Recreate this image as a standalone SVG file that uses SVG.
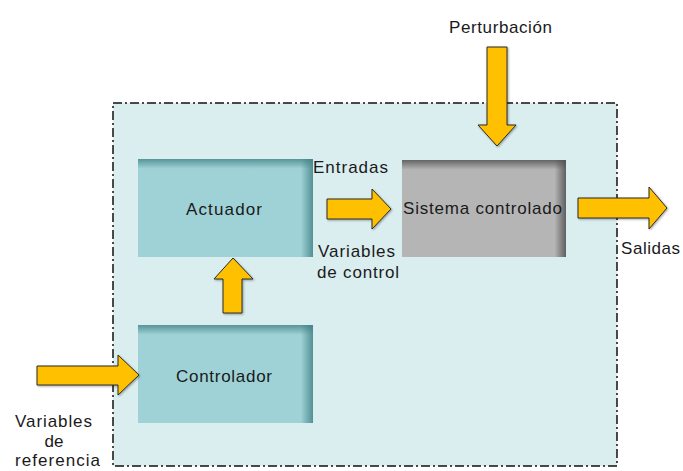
<svg xmlns="http://www.w3.org/2000/svg" width="683" height="471" viewBox="0 0 683 471">
  <defs>
    <style>
      text { font-family: "Liberation Sans", Arial, sans-serif; font-size: 17px; fill: #1a1a1a; }
      .arrow { fill: #FFC000; stroke: #2b2b2b; stroke-width: 1; stroke-linejoin: miter; filter: url(#sh); }
      .frame { fill: #DAEDEF; stroke: #111; stroke-width: 1.5; stroke-dasharray: 9 3 2 3; }
    </style>
    <filter id="sh" x="-20%" y="-20%" width="140%" height="140%">
      <feDropShadow dx="1" dy="1" stdDeviation="0.8" flood-color="#000" flood-opacity="0.35"/>
    </filter>
    <linearGradient id="topT" x1="0" y1="0" x2="0" y2="1">
      <stop offset="0" stop-color="#3f7f84" stop-opacity="0.75"/>
      <stop offset="0.1" stop-color="#3f7f84" stop-opacity="0"/>
    </linearGradient>
    <linearGradient id="rightT" x1="0" y1="0" x2="1" y2="0">
      <stop offset="0.93" stop-color="#3f7f84" stop-opacity="0"/>
      <stop offset="1" stop-color="#3f7f84" stop-opacity="0.8"/>
    </linearGradient>
    <linearGradient id="topG" x1="0" y1="0" x2="0" y2="1">
      <stop offset="0" stop-color="#505050" stop-opacity="0.8"/>
      <stop offset="0.1" stop-color="#505050" stop-opacity="0"/>
    </linearGradient>
    <linearGradient id="rightG" x1="0" y1="0" x2="1" y2="0">
      <stop offset="0.93" stop-color="#505050" stop-opacity="0"/>
      <stop offset="1" stop-color="#505050" stop-opacity="0.85"/>
    </linearGradient>
  </defs>

  <rect x="0" y="0" width="683" height="471" fill="#ffffff"/>

  <g id="frame">
    <rect class="frame" x="113" y="103" width="504" height="363"/>
  </g>

  <g id="actuador">
    <rect x="138" y="159" width="175" height="98" fill="#9FD2D6"/>
    <rect x="138" y="159" width="175" height="98" fill="url(#topT)"/>
    <rect x="138" y="159" width="175" height="98" fill="url(#rightT)"/>
    <text x="186" y="215" textLength="76" lengthAdjust="spacing">Actuador</text>
  </g>

  <g id="sistema">
    <rect x="402" y="160" width="164" height="97" fill="#B5B5B5"/>
    <rect x="402" y="160" width="164" height="97" fill="url(#topG)"/>
    <rect x="402" y="160" width="164" height="97" fill="url(#rightG)"/>
    <text x="403" y="214" textLength="159" lengthAdjust="spacing">Sistema controlado</text>
  </g>

  <g id="controlador">
    <rect x="138" y="325" width="175" height="98" fill="#9FD2D6"/>
    <rect x="138" y="325" width="175" height="98" fill="url(#topT)"/>
    <rect x="138" y="325" width="175" height="98" fill="url(#rightT)"/>
    <text x="176" y="382" textLength="96" lengthAdjust="spacing">Controlador</text>
  </g>

  <g id="connectors">
    <path class="arrow" d="M487,47 H507 V125 H516 L497,146 L478,125 H487 Z"/>
    <path class="arrow" d="M327,199 H372 V189 L391,209 L372,229 V219 H327 Z"/>
    <path class="arrow" d="M578,198 H649 V187 L667,208 L649,229 V218 H578 Z"/>
    <path class="arrow" d="M37,366 H118 V355 L139,375 L118,395 V385 H37 Z"/>
    <path class="arrow" d="M223,313 V279 H214 L233,258 L253,279 H242 V313 Z"/>
  </g>

  <g id="labels">
    <text x="449" y="33" textLength="103" lengthAdjust="spacing">Perturbación</text>
    <text x="313" y="173" textLength="75" lengthAdjust="spacing">Entradas</text>
    <text x="318" y="257" textLength="77" lengthAdjust="spacing">Variables</text>
    <text x="317" y="278" textLength="82" lengthAdjust="spacing">de control</text>
    <text x="621" y="254" textLength="59" lengthAdjust="spacing">Salidas</text>
    <text x="15" y="427" textLength="77" lengthAdjust="spacing">Variables</text>
    <text x="54" y="447" text-anchor="middle">de</text>
    <text x="15" y="466" textLength="85" lengthAdjust="spacing">referencia</text>
  </g>
</svg>
